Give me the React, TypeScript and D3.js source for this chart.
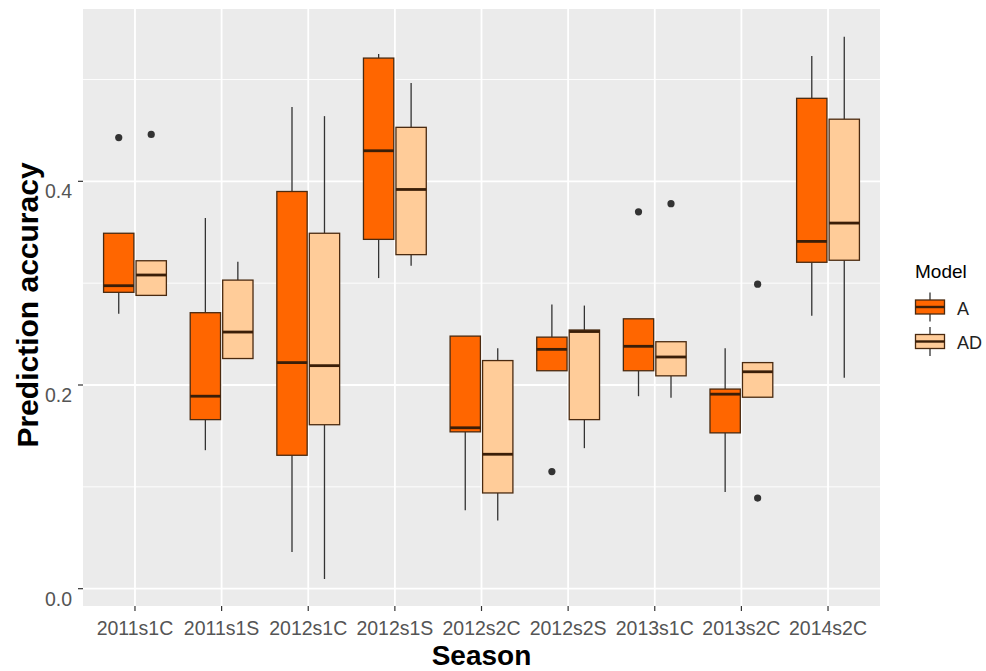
import * as d3 from "d3";

// seasons on the x axis
const seasons = [
  "2011s1C", "2011s1S", "2012s1C", "2012s1S", "2012s2C",
  "2012s2S", "2013s1C", "2013s2C", "2014s2C",
];

// model A: whisker low, Q1, median, Q3, whisker high
const aLow = [0.270, 0.136, 0.036, 0.305, 0.077, 0.214, 0.189, 0.095, 0.268];
const aQ1 = [0.291, 0.166, 0.131, 0.343, 0.154, 0.214, 0.214, 0.153, 0.3205];
const aMed = [0.2975, 0.189, 0.222, 0.430, 0.158, 0.235, 0.238, 0.191, 0.341];
const aQ3 = [0.349, 0.271, 0.390, 0.521, 0.248, 0.247, 0.265, 0.196, 0.4815];
const aHigh = [0.349, 0.364, 0.473, 0.525, 0.248, 0.279, 0.265, 0.236, 0.523];
const aOut: number[][] = [[0.443], [], [], [], [], [0.115], [0.370], [], []];

// model AD
const adLow = [0.288, 0.226, 0.0095, 0.317, 0.067, 0.138, 0.1875, 0.188, 0.207];
const adQ1 = [0.288, 0.226, 0.161, 0.328, 0.094, 0.166, 0.209, 0.188, 0.3225];
const adMed = [0.308, 0.252, 0.219, 0.392, 0.132, 0.2525, 0.2275, 0.213, 0.359];
const adQ3 = [0.322, 0.303, 0.349, 0.453, 0.224, 0.254, 0.2425, 0.222, 0.461];
const adHigh = [0.322, 0.321, 0.464, 0.4965, 0.236, 0.278, 0.2425, 0.222, 0.542];
const adOut: number[][] = [[0.446], [], [], [], [], [], [0.378], [0.299, 0.089], []];

const models = ["A", "AD"];
const modelColors = ["#FF6600", "#FFCC99"];

const yTicks = [0.0, 0.2, 0.4];
const yMinor = [0.1, 0.3, 0.5];

const W = 986;
const H = 671;
const panel = { left: 83, right: 880, top: 9, bottom: 606 };

const FONT = "'Liberation Sans', Arial, Helvetica, sans-serif";
const OUTLINE = "#4A2A10";

interface BoxStat {
  season: string;
  model: number;
  low: number;
  q1: number;
  med: number;
  q3: number;
  high: number;
  out: number[];
}

export default function App() {
  const x = d3.scalePoint<string>().domain(seasons).range([panel.left, panel.right]).padding(0.6);
  const y = d3.scaleLinear().domain([-0.017, 0.5692]).range([panel.bottom, panel.top]);
  const step = x.step();
  const boxW = step * 0.35;
  const dodge = step * 0.1875;

  const stats: BoxStat[] = [];
  seasons.forEach((s, i) => {
    stats.push({ season: s, model: 0, low: aLow[i], q1: aQ1[i], med: aMed[i], q3: aQ3[i], high: aHigh[i], out: aOut[i] });
    stats.push({ season: s, model: 1, low: adLow[i], q1: adQ1[i], med: adMed[i], q3: adQ3[i], high: adHigh[i], out: adOut[i] });
  });

  return (
    <svg width={W} height={H} style={{ position: "absolute", left: 0, top: 0, background: "#fff" }} fontFamily={FONT}>
      {/* panel */}
      <rect x={panel.left} y={panel.top} width={panel.right - panel.left} height={panel.bottom - panel.top} fill="#EBEBEB" />
      {yMinor.map((v) => (
        <line key={"mi" + v} x1={panel.left} x2={panel.right} y1={y(v)} y2={y(v)} stroke="#fff" strokeWidth={0.9} />
      ))}
      {yTicks.map((v) => (
        <line key={"ma" + v} x1={panel.left} x2={panel.right} y1={y(v)} y2={y(v)} stroke="#fff" strokeWidth={1.8} />
      ))}
      {seasons.map((s) => (
        <line key={"gx" + s} x1={x(s)} x2={x(s)} y1={panel.top} y2={panel.bottom} stroke="#fff" strokeWidth={1.8} />
      ))}

      {/* boxes */}
      {stats.map((b) => {
        const cx = (x(b.season) ?? 0) + (b.model === 0 ? -dodge : dodge);
        return (
          <g key={b.season + b.model}>
            <line x1={cx} x2={cx} y1={y(b.high)} y2={y(b.q3)} stroke="#333" strokeWidth={1.3} />
            <line x1={cx} x2={cx} y1={y(b.q1)} y2={y(b.low)} stroke="#333" strokeWidth={1.3} />
            <rect
              x={cx - boxW / 2}
              y={y(b.q3)}
              width={boxW}
              height={y(b.q1) - y(b.q3)}
              fill={modelColors[b.model]}
              stroke={OUTLINE}
              strokeWidth={1.3}
            />
            <line x1={cx - boxW / 2} x2={cx + boxW / 2} y1={y(b.med)} y2={y(b.med)} stroke="#3A1E08" strokeWidth={2.8} />
            {b.out.map((o, j) => (
              <circle key={j} cx={cx} cy={y(o)} r={3.6} fill="#333" />
            ))}
          </g>
        );
      })}

      {/* y axis */}
      {yTicks.map((v) => (
        <g key={"yt" + v}>
          <line x1={panel.left - 5} x2={panel.left} y1={y(v)} y2={y(v)} stroke="#333" strokeWidth={1.2} />
          <text x={72} y={y(v) + 17} textAnchor="end" fontSize={19.5} fill="#555">
            {d3.format(".1f")(v)}
          </text>
        </g>
      ))}

      {/* x axis */}
      {seasons.map((s) => (
        <g key={"xt" + s}>
          <line x1={x(s)} x2={x(s)} y1={panel.bottom} y2={panel.bottom + 5} stroke="#333" strokeWidth={1.2} />
          <text x={x(s)} y={635} textAnchor="middle" fontSize={19.5} fill="#555">
            {s}
          </text>
        </g>
      ))}

      {/* axis titles */}
      <text x={(panel.left + panel.right) / 2} y={665} textAnchor="middle" fontSize={28} fontWeight="bold" fill="#000">
        Season
      </text>
      <text
        transform={`translate(38,305) rotate(-90)`}
        textAnchor="middle"
        fontSize={30}
        fontWeight="bold"
        fill="#000"
      >
        Prediction accuracy
      </text>

      {/* legend */}
      <text x={915} y={278} fontSize={19} fill="#000">
        Model
      </text>
      {models.map((m, i) => {
        const cy = 307 + i * 34.5;
        const kx = 930;
        return (
          <g key={m}>
            <line x1={kx} x2={kx} y1={cy - 14.5} y2={cy + 14.5} stroke="#333" strokeWidth={1.3} />
            <rect x={kx - 14.5} y={cy - 7} width={29} height={14} fill={modelColors[i]} stroke={OUTLINE} strokeWidth={1.3} />
            <line x1={kx - 14.5} x2={kx + 14.5} y1={cy} y2={cy} stroke="#3A1E08" strokeWidth={2.4} />
            <text x={957} y={cy + 7.5} fontSize={18} fill="#222">
              {m}
            </text>
          </g>
        );
      })}
    </svg>
  );
}
